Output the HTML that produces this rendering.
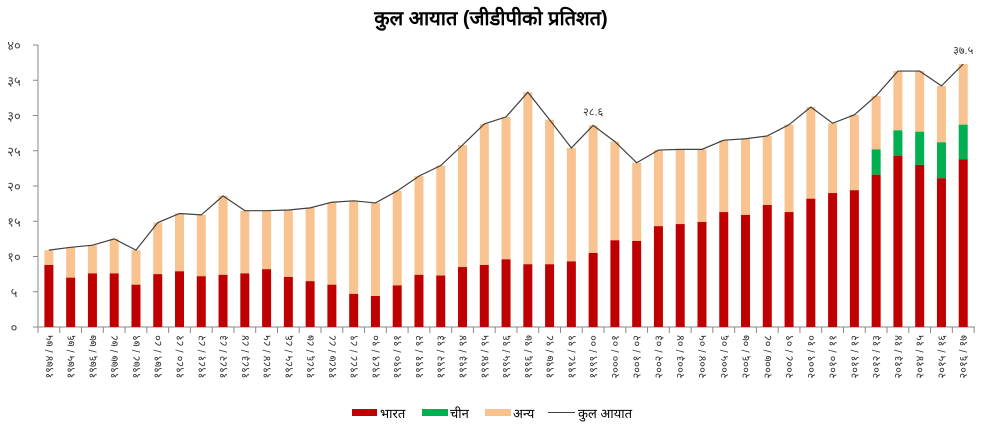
<!DOCTYPE html>
<html><head><meta charset="utf-8"><style>
body{margin:0;background:#fff;}
svg{display:block;font-family:"Liberation Sans","Noto Sans CJK SC",sans-serif;}
</style></head><body>
<svg id="c" width="982" height="429" xmlns="http://www.w3.org/2000/svg">
<text x="491" y="25" text-anchor="middle" font-size="20" font-weight="bold" fill="#000">कुल आयात (जीडीपीको प्रतिशत)</text>
<g id="g"></g>
</svg>
<script>
var dv=['०','१','२','३','४','५','६','७','८','९'];
function d(s){return String(s).replace(/[0-9]/g,function(c){return dv[+c];});}
var tot=[10.9,11.3,11.6,12.5,10.9,14.8,16.1,15.9,18.6,16.5,16.5,16.6,16.9,17.7,17.9,17.6,19.3,21.4,22.9,25.8,28.8,29.8,33.3,29.4,25.4,28.6,26.3,23.3,25.1,25.2,25.2,26.5,26.7,27.1,28.7,31.2,28.9,30.1,32.8,36.3,36.3,34.2,37.3];
var ind=[8.8,7.0,7.6,7.6,6.0,7.5,7.9,7.2,7.4,7.6,8.2,7.1,6.5,6.0,4.7,4.4,5.9,7.4,7.3,8.5,8.8,9.6,8.9,8.9,9.3,10.5,12.3,12.2,14.3,14.6,14.9,16.3,15.9,17.3,16.3,18.2,19.0,19.4,21.6,24.3,23.0,21.1,23.8];
var chn={38:3.6,39:3.6,40:4.7,41:5.1,42:4.9};
var y0=327,k=7.05,x0=38,w=21.77,bw=9;
var s='';
function Y(v){return y0-v*k;}
for(var i=0;i<=8;i++){var v=i*5,y=Y(v);
s+='<line x1="33" x2="38" y1="'+y+'" y2="'+y+'" stroke="#888"/>';
s+='<text x="14" y="'+(y+5)+'" text-anchor="middle" font-size="13" fill="#444">'+d(v)+'</text>';}
s+='<line x1="38" x2="38" y1="45" y2="327" stroke="#888"/>';
s+='<line x1="38" x2="975" y1="327" y2="327" stroke="#888"/>';
var pts=[];
for(var i=0;i<43;i++){
var cx=x0+w*(i+0.5),bx=cx-bw/2,c=chn[i]||0;
s+='<rect x="'+bx+'" y="'+Y(tot[i])+'" width="'+bw+'" height="'+(tot[i]-ind[i]-c)*k+'" fill="#F9C38F"/>';
if(c)s+='<rect x="'+bx+'" y="'+Y(ind[i]+c)+'" width="'+bw+'" height="'+c*k+'" fill="#00B050"/>';
s+='<rect x="'+bx+'" y="'+Y(ind[i])+'" width="'+bw+'" height="'+ind[i]*k+'" fill="#C00000"/>';
pts.push(cx+','+Y(tot[i]));
var tx=x0+w*(i+1);
s+='<line x1="'+tx+'" x2="'+tx+'" y1="327" y2="333" stroke="#888"/>';
var a=1974+i,b=(a+1)%100;var lab=d(a)+' / '+d((b<10?'0':'')+b);
s+='<text transform="translate('+(cx+4)+',335) rotate(-90)" text-anchor="end" font-size="11" fill="#333">'+lab+'</text>';
if(i==0)s+='<line x1="'+x0+'" x2="'+x0+'" y1="327" y2="333" stroke="#888"/>';
}
s+='<polyline points="'+pts.join(' ')+'" fill="none" stroke="#404040" stroke-width="1.2"/>';
s+='<text x="'+(x0+w*25.5)+'" y="'+(Y(28.6)-10)+'" text-anchor="middle" font-size="11" fill="#333">'+d('28.6')+'</text>';
s+='<text x="'+(x0+w*42.5)+'" y="'+(Y(37.3)-10)+'" text-anchor="middle" font-size="11" fill="#333">'+d('37.5')+'</text>';
s+='<rect x="352" y="409" width="25" height="7" fill="#C00000"/><text x="380" y="418" font-size="13">भारत</text>';
s+='<rect x="422" y="409" width="26" height="7" fill="#00B050"/><text x="450" y="418" font-size="13">चीन</text>';
s+='<rect x="485" y="409" width="26" height="7" fill="#F9C38F"/><text x="513" y="418" font-size="13">अन्य</text>';
s+='<line x1="548" x2="575" y1="412.5" y2="412.5" stroke="#404040"/><text x="578" y="418" font-size="13">कुल आयात</text>';
document.getElementById('g').innerHTML=s;
</script>
</body></html>
